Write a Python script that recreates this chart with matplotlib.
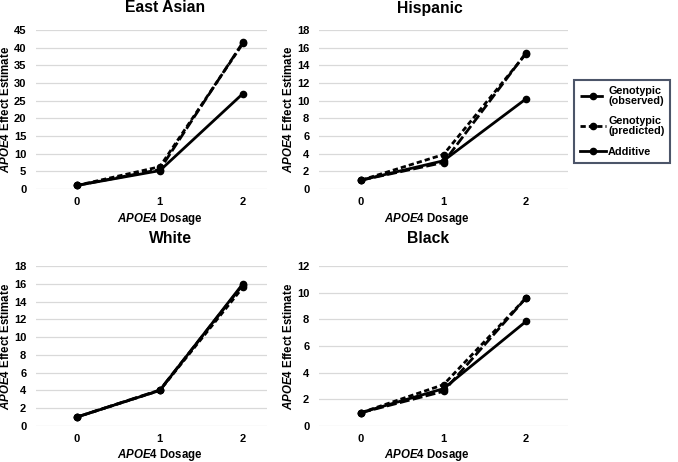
import matplotlib
matplotlib.use("Agg")
import matplotlib.pyplot as plt
from matplotlib.lines import Line2D

plt.rcParams['font.family'] = ['Liberation Sans', 'DejaVu Sans']
plt.rcParams['font.weight'] = 'bold'
plt.rcParams['mathtext.fontset'] = 'custom'
plt.rcParams['mathtext.it'] = 'Liberation Sans:bold:italic'
plt.rcParams['mathtext.rm'] = 'Liberation Sans:bold'
plt.rcParams['mathtext.bf'] = 'Liberation Sans:bold'

dosage = [0, 1, 2]
dosage_labels = ["0", "1", "2"]

panels = ["East Asian", "Hispanic", "White", "Black"]
observed = {
    "East Asian": [1, 5.5, 41.5],
    "Hispanic": [1, 3.0, 15.4],
    "White": [1, 4.05, 15.9],
    "Black": [1, 2.6, 9.6],
}
predicted = {
    "East Asian": [1, 6.3, 41.2],
    "Hispanic": [1, 3.9, 15.3],
    "White": [1, 4.0, 15.6],
    "Black": [1, 3.1, 9.6],
}
additive = {
    "East Asian": [1, 5.2, 27.0],
    "Hispanic": [1, 3.2, 10.2],
    "White": [1, 4.0, 16.0],
    "Black": [1, 2.8, 7.84],
}
ymax = {"East Asian": 45, "Hispanic": 18, "White": 18, "Black": 12}
ystep = {"East Asian": 5, "Hispanic": 2, "White": 2, "Black": 2}

W, H = 678, 462
fig = plt.figure(figsize=(W / 100, H / 100), dpi=100)

# pixel boxes: left, right, top, bottom
boxes = {
    "East Asian": (36, 267, 30, 189),
    "Hispanic": (319, 568, 30, 189),
    "White": (36, 267, 266, 426),
    "Black": (319, 568, 266, 426),
}
xlims = {
    "East Asian": (-0.49, 2.29),
    "Hispanic": (-0.51, 2.51),
    "White": (-0.49, 2.29),
    "Black": (-0.51, 2.51),
}
title_y = {"East Asian": 8, "Hispanic": 8, "White": 239, "Black": 239}
title_x = {"East Asian": 165, "Hispanic": 430, "White": 170, "Black": 428}
xlabel_x = {"East Asian": 160, "Hispanic": 427, "White": 160, "Black": 427}
xlabel_y = {"East Asian": 219, "Hispanic": 219, "White": 455, "Black": 455}
ylabel_x = {"East Asian": 6, "Hispanic": 289, "White": 6, "Black": 289}

obs_dash = (0, (3.6, 1.2))
pred_dash = (0, (1.9, 1.1))
lw = 2.0
ms = 4.5

for name in panels:
    l, r, t, b = boxes[name]
    ax = fig.add_axes([l / W, 1 - b / H, (r - l) / W, (b - t) / H])
    ax.plot(dosage, additive[name], color='black', lw=lw, marker='o', ms=ms,
            clip_on=False, zorder=3)
    ax.plot(dosage, predicted[name], color='black', lw=lw, ls=pred_dash,
            marker='o', ms=ms, clip_on=False, zorder=4)
    ax.plot(dosage, observed[name], color='black', lw=lw, ls=obs_dash,
            marker='o', ms=ms, clip_on=False, zorder=5)
    ax.set_xlim(*xlims[name])
    ax.set_ylim(0, ymax[name])
    ax.set_yticks(list(range(0, ymax[name] + 1, ystep[name])))
    ax.set_xticks(dosage)
    ax.set_xticklabels(dosage_labels)
    ax.grid(axis='y', color='#D9D9D9', lw=0.9)
    ax.set_axisbelow(True)
    for s in ax.spines.values():
        s.set_visible(False)
    ax.tick_params(length=0, labelsize=8, pad=7)
    ax.tick_params(axis='x', pad=6)
    for lab in ax.get_xticklabels() + ax.get_yticklabels():
        lab.set_fontweight('bold')
    fig.text(title_x[name] / W, 1 - title_y[name] / H, name, ha='center',
             va='center', fontsize=11.3, fontweight='bold')
    fig.text(xlabel_x[name] / W, 1 - xlabel_y[name] / H,
             r"$\mathit{APOE4}$ Dosage", ha='center', va='center',
             fontsize=8.3, fontweight='bold')
    fig.text(ylabel_x[name] / W, 1 - ((t + b) / 2) / H,
             r"$\mathit{APOE4}$ Effect Estimate", ha='center', va='center',
             rotation=90, fontsize=8.3, fontweight='bold')

handles = [
    Line2D([], [], color='black', lw=lw, ls=obs_dash, marker='o', ms=ms),
    Line2D([], [], color='black', lw=lw, ls=pred_dash, marker='o', ms=ms),
    Line2D([], [], color='black', lw=lw, marker='o', ms=ms),
]
labels = ["Genotypic\n(observed)", "Genotypic\n(predicted)", "Additive"]
leg = fig.legend(handles, labels, loc='upper left',
                 bbox_to_anchor=(574 / W, 1 - 80 / H), borderaxespad=0,
                 handlelength=2.4, handletextpad=0.2,
                 frameon=True, fancybox=False, borderpad=0.55,
                 labelspacing=0.95, prop={'weight': 'bold', 'size': 7.8})
leg.get_frame().set_edgecolor('#1F2A44')
leg.get_frame().set_linewidth(1.5)
for txt in leg.get_texts():
    txt.set_linespacing(1.0)

fig.savefig("out.png", dpi=100)
